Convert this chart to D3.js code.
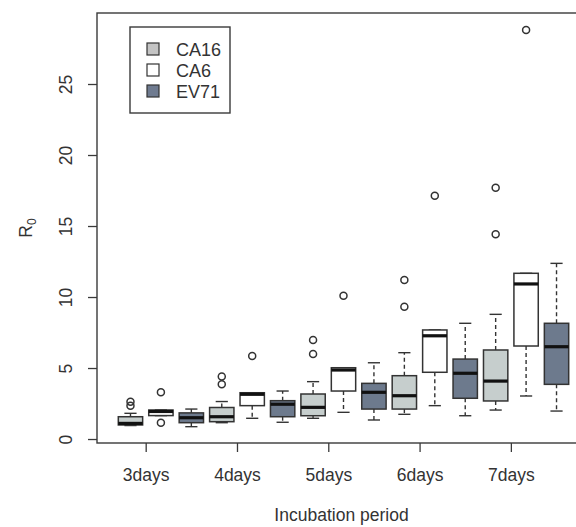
<!DOCTYPE html>
<html lang="en">
<head>
  <meta charset="UTF-8">
  <title>R0 by incubation period</title>
  <style>
    body { margin: 0; padding: 0; background: #fff; }
    svg { display: block; font-family: "Liberation Sans", Arial, sans-serif; }
    .frame { fill: none; stroke: #3a3a3a; stroke-width: 1.4; }
    .tick line { stroke: #3a3a3a; stroke-width: 1.3; }
    text { fill: #333; }
  </style>
</head>
<body>
  <svg id="chart" width="576" height="527"></svg>

  <script src="https://d3js.org/d3.v7.min.js"></script>
  <script>
  (function(){
    const groups = ["3days", "4days", "5days", "6days", "7days"],
          series = ["CA16", "CA6", "EV71"],
          fills  = ["#c6cecd", "#ffffff", "#6d7a8d"],
          legendFills = ["#c4c4c4", "#ffffff", "#6f7b90"],
          yTicks = [0, 5, 10, 15, 20, 25];

    // box stats per series, one row per incubation period:
    // [lower whisker, Q1, median, Q3, upper whisker]
    const ca16 = [
      [0.95, 0.99, 1.10, 1.57, 1.81],
      [1.15, 1.22, 1.57, 2.22, 2.64],
      [1.46, 1.64, 2.23, 3.17, 4.04],
      [1.74, 2.11, 3.05, 4.46, 6.08],
      [2.04, 2.68, 4.08, 6.27, 8.78]
    ];
    const ca6 = [
      [1.65, 1.65, 1.94, 2.04, 2.04],
      [1.46, 2.35, 3.15, 3.26, 3.26],
      [1.88, 3.38, 4.86, 5.02, 5.02],
      [2.35, 4.70, 7.27, 7.68, 7.68],
      [3.03, 6.55, 10.92, 11.67, 11.67]
    ];
    const ev71 = [
      [0.87, 1.15, 1.50, 1.84, 2.11],
      [1.18, 1.57, 2.45, 2.70, 3.38],
      [1.34, 2.11, 3.29, 3.92, 5.37],
      [1.64, 2.87, 4.63, 5.63, 8.15],
      [1.97, 3.85, 6.50, 8.15, 12.37]
    ];

    const ca16Out = [[2.35, 2.63], [3.85, 4.40], [5.99, 6.97], [9.32, 11.2], [14.42, 17.7]],
          ca6Out  = [[1.15, 3.29], [5.85], [10.09], [17.13], [28.8]],
          ev71Out = [[], [], [], [], []];

    const stats    = [ca16, ca6, ev71],
          outliers = [ca16Out, ca6Out, ev71Out];

    // flatten into boxes at positions 1..15
    const boxes = [];
    groups.forEach((g, gi) => {
      series.forEach((s, si) => {
        const [lw, q1, med, q3, uw] = stats[si][gi];
        boxes.push({ pos: gi * 3 + si + 1, series: si, lw, q1, med, q3, uw, out: outliers[si][gi] });
      });
    });

    const svg = d3.select("#chart");

    const x = d3.scaleLinear().domain([-0.1, 16.1]).range([97, 590]),
          y = d3.scaleLinear().domain([-0.28, 30.0]).range([443, 13]);

    const boxW = x(0.8) - x(0),
          capW = boxW / 2;

    // axes
    const yAxis = svg.append("g")
      .attr("transform", `translate(${x.range()[0]},0)`)
      .call(d3.axisLeft(y).tickValues(yTicks).tickSize(9).tickFormat(d3.format("d")));
    yAxis.select(".domain").remove();
    yAxis.selectAll(".tick text")
      .attr("x", 0).attr("dy", 0)
      .attr("transform", "translate(-25,0) rotate(-90)")
      .attr("text-anchor", "middle")
      .style("font-size", "17.5px")
      .style("font-family", "'Liberation Sans', Arial, sans-serif")
      .style("fill", "#333");

    const xAxis = svg.append("g")
      .attr("transform", `translate(0,${y.range()[0]})`)
      .call(d3.axisBottom(x).tickValues([1.5, 4.5, 7.5, 10.5, 13.5]).tickSize(9)
        .tickFormat((d, i) => groups[i]));
    xAxis.select(".domain").remove();
    xAxis.selectAll(".tick text")
      .attr("y", 0).attr("dy", 0)
      .attr("transform", "translate(0,38)")
      .style("font-size", "17.5px")
      .style("font-family", "'Liberation Sans', Arial, sans-serif")
      .style("fill", "#333");

    // boxes
    const b = svg.append("g")
      .selectAll("g")
      .data(boxes)
      .join("g")
        .attr("transform", d => `translate(${x(d.pos)},0)`);

    b.append("line")
      .attr("y1", d => y(d.q3)).attr("y2", d => y(d.uw))
      .attr("stroke", "#333").attr("stroke-width", 1.4).attr("stroke-dasharray", "4,3");
    b.append("line")
      .attr("y1", d => y(d.q1)).attr("y2", d => y(d.lw))
      .attr("stroke", "#333").attr("stroke-width", 1.4).attr("stroke-dasharray", "4,3");
    b.append("line")
      .attr("x1", -capW / 2).attr("x2", capW / 2)
      .attr("y1", d => y(d.uw)).attr("y2", d => y(d.uw))
      .attr("stroke", "#333").attr("stroke-width", 1.4);
    b.append("line")
      .attr("x1", -capW / 2).attr("x2", capW / 2)
      .attr("y1", d => y(d.lw)).attr("y2", d => y(d.lw))
      .attr("stroke", "#333").attr("stroke-width", 1.4);

    b.append("rect")
      .attr("x", -boxW / 2).attr("width", boxW)
      .attr("y", d => y(d.q3)).attr("height", d => y(d.q1) - y(d.q3))
      .attr("fill", d => fills[d.series])
      .attr("stroke", "#333").attr("stroke-width", 1.5);

    b.append("line")
      .attr("x1", -boxW / 2).attr("x2", boxW / 2)
      .attr("y1", d => y(d.med)).attr("y2", d => y(d.med))
      .attr("stroke", "#111").attr("stroke-width", 3.2);

    b.selectAll("circle")
      .data(d => d.out)
      .join("circle")
        .attr("cy", v => y(v))
        .attr("r", 3.5)
        .attr("fill", "none")
        .attr("stroke", "#333").attr("stroke-width", 1.5);

    // frame
    svg.append("rect").attr("class", "frame")
      .attr("x", x.range()[0]).attr("y", y.range()[1])
      .attr("width", x.range()[1] - x.range()[0])
      .attr("height", y.range()[0] - y.range()[1]);

    // axis titles
    svg.append("text")
      .attr("x", (x.range()[0] + 590) / 2 - 2).attr("y", 521)
      .attr("text-anchor", "middle")
      .style("font-size", "17.5px")
      .text("Incubation period");

    const yl = svg.append("text")
      .attr("transform", "translate(32,228) rotate(-90)")
      .attr("text-anchor", "middle")
      .style("font-size", "17.5px");
    yl.append("tspan").text("R");
    yl.append("tspan").attr("dy", 4).style("font-size", "12px").text("0");

    // legend
    const lg = svg.append("g").attr("transform", "translate(130,27)");
    lg.append("rect")
      .attr("width", 100).attr("height", 86)
      .attr("fill", "#fff").attr("stroke", "#3a3a3a").attr("stroke-width", 1.4);
    const item = lg.selectAll("g.item")
      .data(series)
      .join("g")
        .attr("class", "item")
        .attr("transform", (d, i) => `translate(0,${22 + i * 21})`);
    item.append("rect")
      .attr("x", 17).attr("y", -6).attr("width", 12).attr("height", 12)
      .attr("fill", (d, i) => legendFills[i])
      .attr("stroke", "#333").attr("stroke-width", 1.2);
    item.append("text")
      .attr("x", 46).attr("y", 6.5)
      .style("font-size", "18px")
      .text(d => d);
  })();
  </script>
</body>
</html>
